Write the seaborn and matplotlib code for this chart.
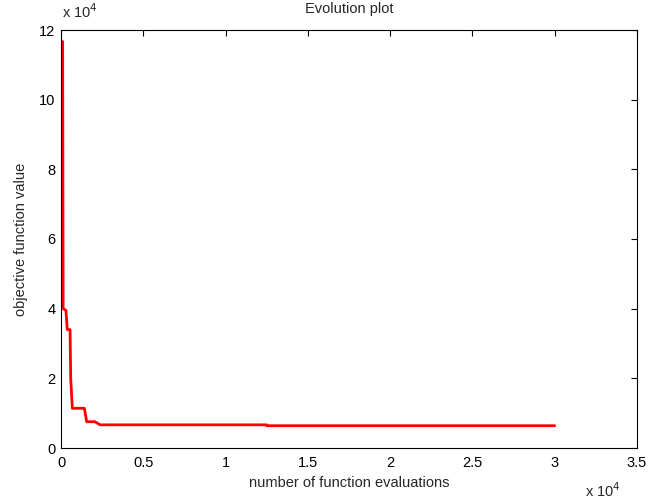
import matplotlib
matplotlib.use("Agg")
import matplotlib.pyplot as plt
import seaborn as sns
import pandas as pd
from matplotlib.ticker import FuncFormatter, MultipleLocator

# data (function evaluations vs objective value)
evaluations = [100, 130, 300, 380, 550, 590, 690, 1420, 1560, 2060, 2370, 12500, 12500, 30000]
objective = [116700, 40000, 39500, 34000, 34000, 20000, 11400, 11400, 7550, 7550, 6650, 6650, 6400, 6400]

df = pd.DataFrame({"evals": evaluations, "obj": objective})

sns.set_style("white")
plt.rcParams['font.family'] = ['Liberation Sans', 'DejaVu Sans']

fig = plt.figure(figsize=(6.51, 5.04), dpi=100)
ax = fig.add_axes([61/651, 56/504, 576/651, 418/504])

sns.lineplot(data=df, x="evals", y="obj", color="#ff0000", linewidth=2, ax=ax,
             sort=False, estimator=None)

ax.set_xlim(0, 35000)
ax.set_ylim(0, 120000)
ax.xaxis.set_major_locator(MultipleLocator(5000))
ax.yaxis.set_major_locator(MultipleLocator(20000))

def fmt(v, pos):
    return "%g" % (v / 1e4)

ax.xaxis.set_major_formatter(FuncFormatter(fmt))
ax.yaxis.set_major_formatter(FuncFormatter(fmt))

ax.tick_params(direction="in", length=4, width=0.8, top=True, right=True,
               labelsize=10.5, colors="black")
ax.tick_params(axis="x", pad=6)
ax.tick_params(axis="y", pad=4)
for s in ax.spines.values():
    s.set_visible(True)
    s.set_color("black")
    s.set_linewidth(0.8)

ax.set_title("Evolution plot", fontsize=10.5, pad=12)
ax.set_xlabel("number of function evaluations", fontsize=10.5, labelpad=4)
ax.set_ylabel("objective function value", fontsize=10.5, labelpad=8)

fig.text(62/651, 1 - 18/504, r"x 10$^{4}$", fontsize=10.5, ha="left", va="baseline")
fig.text(585/651, 1 - 497/504, r"x 10$^{4}$", fontsize=10.5, ha="left", va="baseline")

fig.savefig("out.png", dpi=100)
